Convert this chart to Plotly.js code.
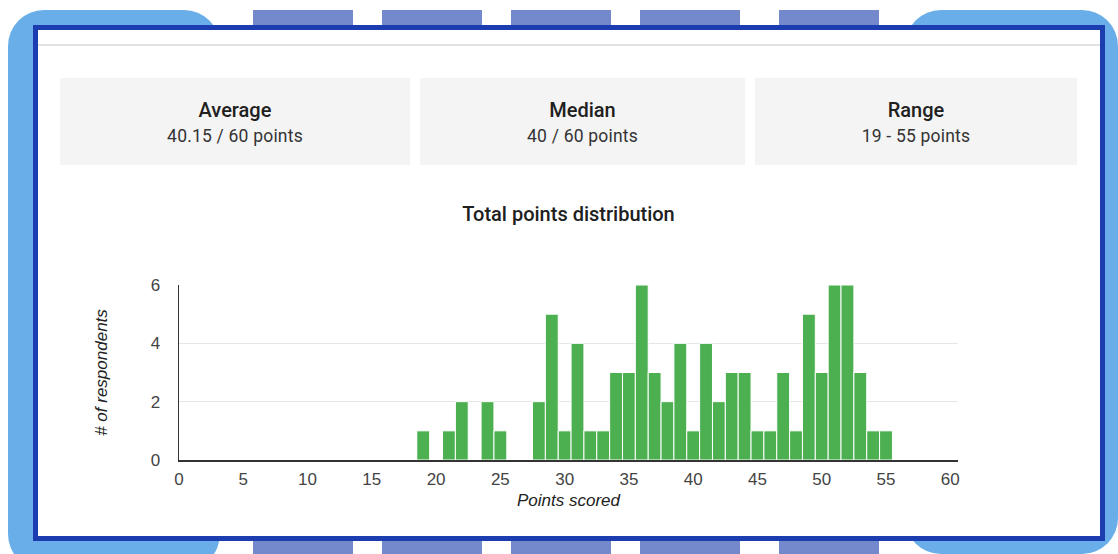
<!DOCTYPE html>
<html>
<head>
<meta charset="utf-8">
<script src="https://cdn.plot.ly/plotly-3.0.1.min.js"></script>
<style>
  html, body { margin:0; padding:0; background:#ffffff; }
  #page { position:relative; width:1118px; height:554px; overflow:hidden; background:#ffffff; }
  .lb { position:absolute; background:#69aee8; }
  .pr { position:absolute; background:#7489cc; }
  #frame { position:absolute; left:33px; top:25px; width:1062px; height:506px; border:5px solid #1b3daf; background:#ffffff; }
  #topline { position:absolute; left:38px; top:44px; width:1062px; height:2px; background:#e2e2e2; }
  .card { position:absolute; top:78px; height:87px; background:#f4f4f4; text-align:center; font-family:Roboto, sans-serif; }
  .card .h { position:absolute; left:0; right:0; top:20px; font-size:20px; font-weight:500; color:#202020; }
  .card .v { position:absolute; left:0; right:0; top:48px; font-size:17.5px; color:#333333; letter-spacing:0.2px; }
  #chart { position:absolute; left:0; top:0; width:1118px; height:554px; }
</style>
</head>
<body>
<div id="page">
  <div class="lb" style="left:8px; top:10px; width:212px; height:560px; border-radius:36px;"></div>
  <div class="lb" style="left:905px; top:10px; width:213px; height:544px; border-radius:36px;"></div>
  <div class="pr" style="left:253px; top:10px; width:100px; height:20px;"></div>
  <div class="pr" style="left:382px; top:10px; width:100px; height:20px;"></div>
  <div class="pr" style="left:511px; top:10px; width:100px; height:20px;"></div>
  <div class="pr" style="left:640px; top:10px; width:100px; height:20px;"></div>
  <div class="pr" style="left:779px; top:10px; width:100px; height:20px;"></div>
  <div class="pr" style="left:253px; top:535px; width:100px; height:20px;"></div>
  <div class="pr" style="left:382px; top:535px; width:100px; height:20px;"></div>
  <div class="pr" style="left:511px; top:535px; width:100px; height:20px;"></div>
  <div class="pr" style="left:640px; top:535px; width:100px; height:20px;"></div>
  <div class="pr" style="left:779px; top:535px; width:100px; height:20px;"></div>
  <div id="frame"></div>
  <div id="topline"></div>
  <div class="card" style="left:60px; width:350px;"><div class="h">Average</div><div class="v">40.15 / 60 points</div></div>
  <div class="card" style="left:420px; width:325px;"><div class="h">Median</div><div class="v">40 / 60 points</div></div>
  <div class="card" style="left:755px; width:322px;"><div class="h">Range</div><div class="v">19 - 55 points</div></div>
  <div id="chart"></div>
</div>
<script>
const points = [19,20,21,22,23,24,25,26,27,28,29,30,31,32,33,34,35,36,37,38,39,40,41,42,43,44,45,46,47,48,49,50,51,52,53,54,55];
const respondents = [1,0,1,2,0,2,1,0,0,2,5,1,4,1,1,3,3,6,3,2,4,1,4,2,3,3,1,1,3,1,5,3,6,6,3,1,1];
const xTicks = [0,5,10,15,20,25,30,35,40,45,50,55,60];
const yTicks = [0,2,4,6];
const chartTitle = "Total points distribution";
const xTitle = "Points scored";
const yTitle = "# of respondents";

const trace = {
  type: 'bar',
  x: points,
  y: respondents,
  width: 1,
  marker: { color: '#4caf50', line: { color: '#ffffff', width: 1 } },
  hoverinfo: 'x+y'
};

const layout = {
  width: 1118, height: 554,
  margin: { l: 179, r: 160, t: 285, b: 94, pad: 0 },
  paper_bgcolor: 'rgba(0,0,0,0)',
  plot_bgcolor: 'rgba(0,0,0,0)',
  showlegend: false,
  bargap: 0,
  title: {
    text: chartTitle,
    font: { family: 'Roboto, sans-serif', size: 20, color: '#202020', weight: 500 },
    xref: 'paper', x: 0.5, xanchor: 'center',
    yref: 'container', y: 1 - 214/554, yanchor: 'middle'
  },
  xaxis: {
    range: [0, 60.6],
    tickvals: xTicks,
    ticktext: xTicks.map(String),
    showgrid: false, zeroline: false,
    showline: true, linecolor: '#333333', linewidth: 1.5,
    ticks: '', ticklabelstandoff: 3,
    tickfont: { family: 'Liberation Sans, Arial, sans-serif', size: 17, color: '#444444' },
    title: { text: xTitle, standoff: 6, font: { family: 'Liberation Sans, Arial, sans-serif', size: 17, color: '#222222', style: 'italic' } },
    fixedrange: true
  },
  yaxis: {
    range: [0, 6],
    tickvals: yTicks,
    ticktext: yTicks.map(String),
    showgrid: true, gridcolor: '#e6e6e6', gridwidth: 1,
    zeroline: false,
    showline: true, linecolor: '#333333', linewidth: 1.5,
    ticks: '', ticklabelstandoff: 14,
    tickfont: { family: 'Liberation Sans, Arial, sans-serif', size: 17, color: '#444444' },
    title: { text: yTitle, standoff: 38, font: { family: 'Liberation Sans, Arial, sans-serif', size: 17, color: '#222222', style: 'italic' } },
    fixedrange: true
  }
};

Plotly.newPlot('chart', [trace], layout, { displayModeBar: false, staticPlot: true });
</script>
</body>
</html>
